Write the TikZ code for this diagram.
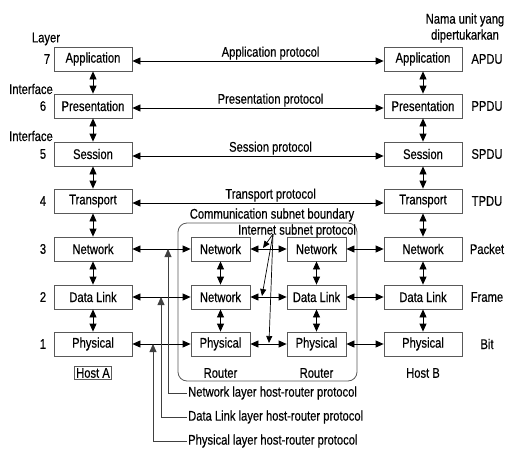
\documentclass[tikz,border=0pt]{standalone}
\usepackage{fontspec}
\setmainfont{Liberation Sans}[FakeStretch=0.8,FakeBold=0.4]
\usepackage{tikz}
\usetikzlibrary{arrows.meta}
\tikzset{
  layerbox/.style={draw=black!65, line width=0.8pt, fill=white, minimum width=78pt, minimum height=24pt, inner sep=0pt},
  routerbox/.style={layerbox, minimum width=59pt},
  arr/.style={{Triangle[length=8pt,width=7pt]}-{Triangle[length=8pt,width=7pt]}, line width=0.8pt},
  tip/.style={-{Triangle[length=7pt,width=6pt]}, line width=0.7pt},
  hrline/.style={{Triangle[length=8pt,width=7pt]}-, line width=0.8pt, draw=black!75},
  lbl/.style={inner sep=1pt}
}
\begin{document}
\begin{tikzpicture}[x=1pt,y=-1pt,font=\fontsize{14}{16}\selectfont]
\useasboundingbox (0,0) rectangle (508,450);
% Drawing subnet boundary
\node[draw=black!65, line width=0.8pt, rounded corners=9pt, minimum width=179pt, minimum height=158pt] (subnet) at (267.5,302) {};
\node (bnd) at (272,215) {Communication subnet boundary};
% Drawing host A
\node[layerbox] (appA) at (93,59) {Application};
\node[layerbox] (preA) at (93,106) {Presentation};
\node[layerbox] (sesA) at (93,154) {Session};
\node[layerbox] (traA) at (93,201) {Transport};
\node[layerbox] (netA) at (93,249) {Network};
\node[layerbox] (dlA) at (93,297) {Data Link};
\node[layerbox] (phyA) at (93,344) {Physical};
\node[draw=black!65, line width=0.7pt, inner sep=1.5pt] (hostA) at (93,373) {Host A};
% Drawing host B
\node[layerbox] (appB) at (423,59) {Application};
\node[layerbox] (preB) at (423,106) {Presentation};
\node[layerbox] (sesB) at (423,154) {Session};
\node[layerbox] (traB) at (423,201) {Transport};
\node[layerbox] (netB) at (423,249) {Network};
\node[layerbox] (dlB) at (423,297) {Data Link};
\node[layerbox] (phyB) at (423,344) {Physical};
\node (hostB) at (423,373) {Host B};
% Drawing routers
\node[routerbox] (netR) at (220.5,249) {Network};
\node[routerbox] (dlR) at (220.5,297) {Network};
\node[routerbox] (phyR) at (220.5,344) {Physical};
\node (routerR) at (220.5,373) {Router};
\node[routerbox] (netS) at (316.5,249) {Network};
\node[routerbox] (dlS) at (316.5,297) {Data Link};
\node[routerbox] (phyS) at (316.5,344) {Physical};
\node (routerS) at (316.5,373) {Router};
% Drawing layer numbers and interfaces
\node (layer) at (46,39) {Layer};
\node (n7) at (47,59) {7};
\node (if6) at (31,89) {Interface};
\node (n6) at (43,106) {6};
\node (if5) at (31,136) {Interface};
\node (n5) at (43,154) {5};
\node (n4) at (43,201) {4};
\node (n3) at (43,249) {3};
\node (n2) at (43,297) {2};
\node (n1) at (43,344) {1};
% Drawing unit names
\node[align=center, inner sep=0pt] (unit) at (465,28) {Nama unit yang\\dipertukarkan};
\node (apdu) at (487,59) {APDU};
\node (ppdu) at (487,106) {PPDU};
\node (spdu) at (487,154) {SPDU};
\node (tpdu) at (487,201) {TPDU};
\node (packet) at (487,249) {Packet};
\node (frame) at (487,297) {Frame};
\node (bit) at (487,344) {Bit};
% Done with nodes; drawing interfaces
\draw[arr] (appA) -- (preA);
\draw[arr] (preA) -- (sesA);
\draw[arr] (sesA) -- (traA);
\draw[arr] (traA) -- (netA);
\draw[arr] (netA) -- (dlA);
\draw[arr] (dlA) -- (phyA);
\draw[arr] (appB) -- (preB);
\draw[arr] (preB) -- (sesB);
\draw[arr] (sesB) -- (traB);
\draw[arr] (traB) -- (netB);
\draw[arr] (netB) -- (dlB);
\draw[arr] (dlB) -- (phyB);
\draw[arr] (netR) -- (dlR);
\draw[arr] (dlR) -- (phyR);
\draw[arr] (netS) -- (dlS);
\draw[arr] (dlS) -- (phyS);
% Drawing peer protocols
\draw[arr] ([yshift=-2pt]appA.east) -- node[pos=0.55, above, lbl] {Application protocol} ([yshift=-2pt]appB.west);
\draw[arr] ([yshift=-2pt]preA.east) -- node[pos=0.55, above, lbl] {Presentation protocol} ([yshift=-2pt]preB.west);
\draw[arr] ([yshift=-2pt]sesA.east) -- node[pos=0.55, above, lbl] {Session protocol} ([yshift=-2pt]sesB.west);
\draw[arr] ([yshift=-2pt]traA.east) -- node[pos=0.55, above, lbl] {Transport protocol} ([yshift=-2pt]traB.west);
% Line 3, 2, 1: host - router - router - host
\draw[arr] (netA) -- (netR);
\draw[arr] (netR) -- (netS);
\draw[arr] (netS) -- (netB);
\draw[arr] (dlA) -- (dlR);
\draw[arr] (dlR) -- (dlS);
\draw[arr] (dlS) -- (dlB);
\draw[arr] (phyA) -- (phyR);
\draw[arr] (phyR) -- (phyS);
\draw[arr] (phyS) -- (phyB);
% Drawing internet subnet protocol
\node (isp) at (297,231) {Internet subnet protocol};
\coordinate (ispo) at (273,234);
\coordinate (isp3) at (263,248);
\coordinate (isp2) at (262,296);
\coordinate (isp1) at (269,343);
\draw[tip] (ispo) -- (isp3);
\draw[tip] (ispo) -- (isp2);
\draw[tip] (ispo) -- (isp1);
% Drawing host-router protocols
\coordinate (nlhr) at (168,249);
\coordinate (dlhr) at (161,297);
\coordinate (plhr) at (153,344);
\node[anchor=west, inner sep=1pt] (nltxt) at (187,393) {Network layer host-router protocol};
\node[anchor=west, inner sep=1pt] (dltxt) at (187,417) {Data Link layer host-router protocol};
\node[anchor=west, inner sep=1pt] (pltxt) at (187,441) {Physical layer host-router protocol};
\draw[hrline] (nlhr) |- (nltxt.west);
\draw[hrline] (dlhr) |- (dltxt.west);
\draw[hrline] (plhr) |- (pltxt.west);
% Done with comments
\end{tikzpicture}
\end{document}
